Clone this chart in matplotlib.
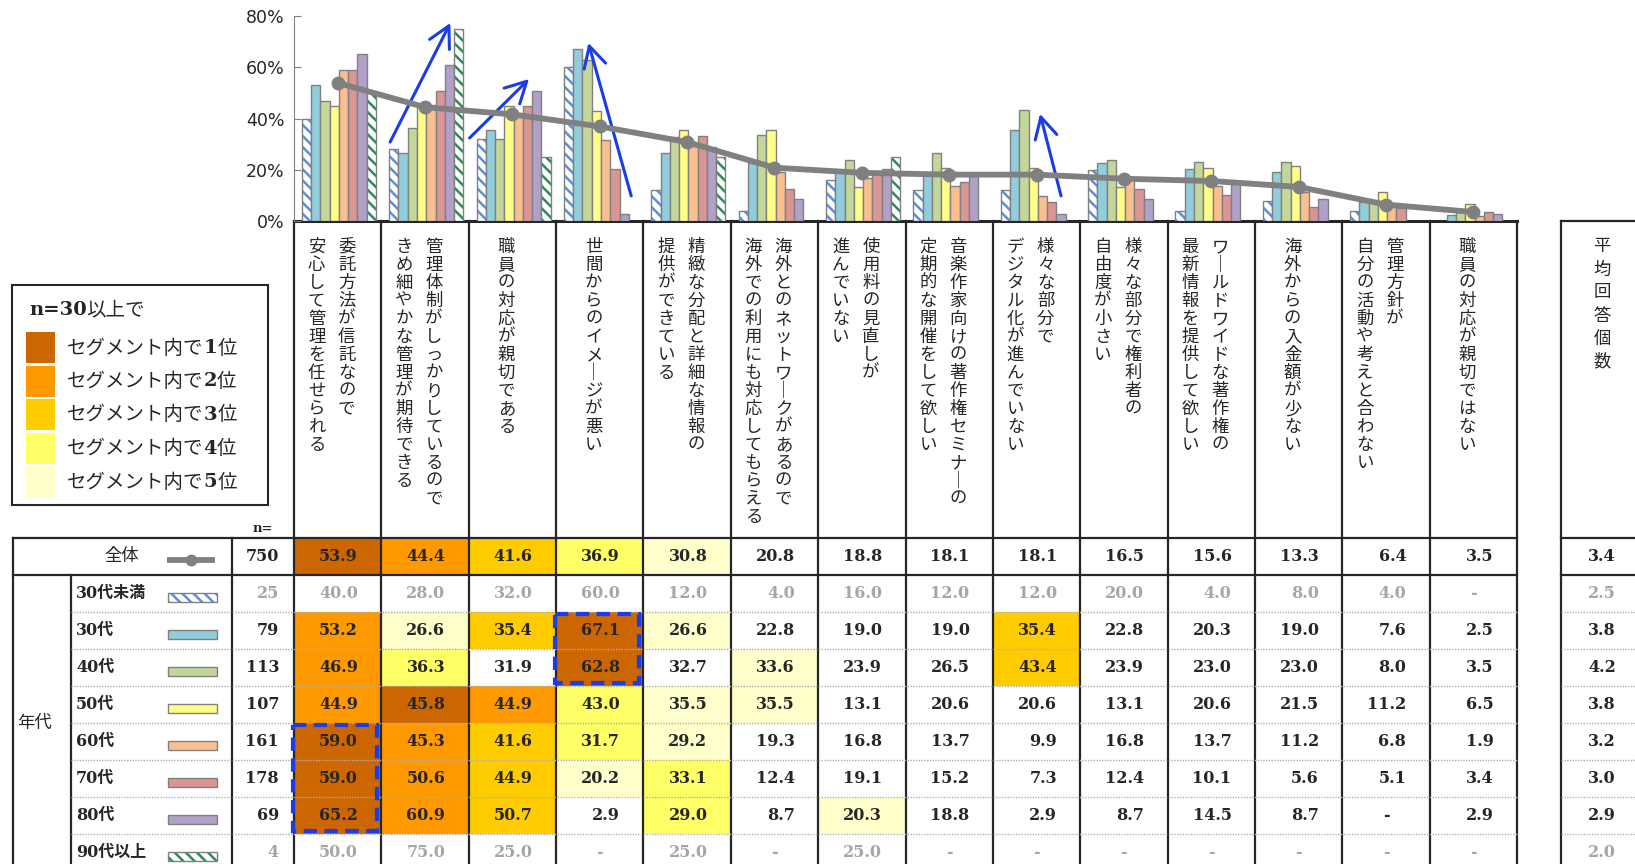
from matplotlib import pyplot as plt
from matplotlib.patches import Rectangle
import numpy as np

plt.rcParams['font.family'] = ['Noto Sans CJK JP', 'DejaVu Sans']
plt.rcParams['hatch.linewidth'] = 1.8

NA = np.nan

# Data
items = [
    ['委託方法が信託なので', '安心して管理を任せられる'],
    ['管理体制がしっかりしているので', 'きめ細やかな管理が期待できる'],
    ['職員の対応が親切である'],
    ['世間からのイメージが悪い'],
    ['精緻な分配と詳細な情報の', '提供ができている'],
    ['海外とのネットワークがあるので', '海外での利用にも対応してもらえる'],
    ['使用料の見直しが', '進んでいない'],
    ['音楽作家向けの著作権セミナーの', '定期的な開催をして欲しい'],
    ['様々な部分で', 'デジタル化が進んでいない'],
    ['様々な部分で権利者の', '自由度が小さい'],
    ['ワールドワイドな著作権の', '最新情報を提供して欲しい'],
    ['海外からの入金額が少ない'],
    ['管理方針が', '自分の活動や考えと合わない'],
    ['職員の対応が親切ではない'],
]
avg_header = '平均回答個数'

segments = ['全体', '30代未満', '30代', '40代', '50代', '60代', '70代', '80代', '90代以上']
n_values = [750, 25, 79, 113, 107, 161, 178, 69, 4]
avg_answers = [3.4, 2.5, 3.8, 4.2, 3.8, 3.2, 3.0, 2.9, 2.0]

total = [53.9, 44.4, 41.6, 36.9, 30.8, 20.8, 18.8, 18.1, 18.1, 16.5, 15.6, 13.3, 6.4, 3.5]
age_u30 = [40.0, 28.0, 32.0, 60.0, 12.0, 4.0, 16.0, 12.0, 12.0, 20.0, 4.0, 8.0, 4.0, NA]
age_30 = [53.2, 26.6, 35.4, 67.1, 26.6, 22.8, 19.0, 19.0, 35.4, 22.8, 20.3, 19.0, 7.6, 2.5]
age_40 = [46.9, 36.3, 31.9, 62.8, 32.7, 33.6, 23.9, 26.5, 43.4, 23.9, 23.0, 23.0, 8.0, 3.5]
age_50 = [44.9, 45.8, 44.9, 43.0, 35.5, 35.5, 13.1, 20.6, 20.6, 13.1, 20.6, 21.5, 11.2, 6.5]
age_60 = [59.0, 45.3, 41.6, 31.7, 29.2, 19.3, 16.8, 13.7, 9.9, 16.8, 13.7, 11.2, 6.8, 1.9]
age_70 = [59.0, 50.6, 44.9, 20.2, 33.1, 12.4, 19.1, 15.2, 7.3, 12.4, 10.1, 5.6, 5.1, 3.4]
age_80 = [65.2, 60.9, 50.7, 2.9, 29.0, 8.7, 20.3, 18.8, 2.9, 8.7, 14.5, 8.7, NA, 2.9]
age_90 = [50.0, 75.0, 25.0, NA, 25.0, NA, 25.0, NA, NA, NA, NA, NA, NA, NA]

age_series = [age_u30, age_30, age_40, age_50, age_60, age_70, age_80, age_90]
age_colors = ['#5B8FDB', '#92CDDC', '#C4D79B', '#FFFF88',
              '#FABF8F', '#DA9694', '#B1A0C7', '#2F8A5B']
age_hatches = ['\\\\\\', None, None, None, None, None, None, '\\\\\\']

rank_names = ['1', '2', '3', '4', '5']
rank_colors = ['#CC6600', '#FF9900', '#FFCC00', '#FFFF66', '#FFFFCC']

# Layout (pixels)
W, H = 1635, 864
X0, CW = 294, 87.36
XE = X0 + CW * 14
AX0 = 1561
Y_BASE, Y_TOP = 221, 16
Y_TOTAL, RH = 538, 37
DARK, GREY, BLUE = '#262626', '#A6A6A6', '#1A3DE8'
num_font = dict(family='DejaVu Serif', weight='bold', size=11.5)
mix_font = dict(family=['DejaVu Serif', 'Noto Sans CJK JP'], weight='bold')
serif_b = dict(family='DejaVu Serif', weight='bold')
cjk_r = dict(family='Noto Sans CJK JP', weight='normal')

fig = plt.figure(figsize=(W / 100, H / 100), dpi=100)
tb = fig.add_axes([0, 0, 1, 1])
tb.set_xlim(0, W)
tb.set_ylim(H, 0)
tb.axis('off')

ax = fig.add_axes([X0 / W, 1 - Y_BASE / H, CW * 14 / W, (Y_BASE - Y_TOP) / H])
ax.patch.set_visible(False)


def chained_text(x, y, parts, size):
    """Write pieces with different fonts one after another on a line."""
    prev = tb.text(x, y, parts[0][0], ha='left', va='center', color=DARK,
                   size=size, **parts[0][1])
    for s, font in parts[1:]:
        prev = tb.annotate(s, xy=(1, 0.5), xycoords=prev, ha='left', va='center',
                           color=DARK, size=size, **font)


# Bars
pos = np.arange(len(items))
bar_w = 0.106
for j, (vals, color, hatch) in enumerate(zip(age_series, age_colors, age_hatches)):
    vals = np.array(vals, dtype=float)
    ok = ~np.isnan(vals)
    x = pos[ok] + 0.09 + (j + 0.5) * bar_w
    if hatch:
        ax.bar(x, vals[ok], bar_w, color='white', edgecolor=color, hatch=hatch, lw=0)
        ax.bar(x, vals[ok], bar_w, fill=False, edgecolor='#808080', lw=1)
    else:
        ax.bar(x, vals[ok], bar_w, color=color, edgecolor='#808080', lw=1)

ax.plot(pos + 0.5, total, color='#808080', lw=4.2, marker='o', ms=9, zorder=5)

ax.set_xlim(0, len(items))
ax.set_ylim(0, 80)
ax.set_yticks([0, 20, 40, 60, 80])
ax.set_yticklabels([f'{v}%' for v in [0, 20, 40, 60, 80]],
                   family='DejaVu Sans', fontsize=12.5, color=DARK)
ax.set_xticks([])
ax.tick_params(axis='y', direction='in', length=5, color='#808080', pad=7)
for side in ['top', 'right', 'bottom']:
    ax.spines[side].set_visible(False)
ax.spines['left'].set_color('#808080')

# hand-drawn arrows
arrows = [((1.10, 30.8), (1.79, 77.3)), ((2.01, 32.4), (2.69, 55.4)),
          ((3.86, 9.8), (3.37, 69.5)), ((8.78, 9.8), (8.54, 41.8))]
for start, end in arrows:
    ax.annotate('', xy=end, xytext=start, annotation_clip=False,
                arrowprops=dict(arrowstyle='->,head_length=0.75,head_width=0.4',
                                color=BLUE, lw=2.2, mutation_scale=20,
                                shrinkA=0, shrinkB=0))

# Table cells
for r, vals in enumerate([total] + age_series):
    y_top = Y_TOTAL + r * RH
    yc = y_top + RH / 2
    big = n_values[r] >= 30
    color = DARK if big else GREY
    valid = [v for v in vals if not np.isnan(v)]
    for c, v in enumerate(vals):
        xl = X0 + c * CW
        if np.isnan(v):
            tb.text(xl + CW / 2, yc, '-', ha='center', va='center', color=color, **num_font)
            continue
        if big:
            rank = 1 + sum(1 for w in valid if w > v)
            if rank <= 5:
                tb.add_patch(Rectangle((xl, y_top), CW, RH, color=rank_colors[rank - 1], lw=0))
        tb.text(xl + 64, yc, f'{v:.1f}', ha='right', va='center', color=color, **num_font)
    tb.text(AX0 + 55, yc, f'{avg_answers[r]:.1f}', ha='right', va='center', color=color, **num_font)
    tb.text(279, yc, str(n_values[r]), ha='right', va='center', color=color, **num_font)
    if r == 0:
        tb.text(122, yc - 1, segments[r], ha='center', va='center', fontsize=12.5, color=DARK)
        tb.plot([167, 215], [yc + 3, yc + 3], color='#808080', lw=4.2, solid_capstyle='butt')
        tb.plot([191], [yc + 3], 'o', color='#808080', ms=7.5)
    else:
        tb.text(76, yc, segments[r], ha='left', va='center', color=DARK, size=11.5, **mix_font)
        j = r - 1
        if age_hatches[j]:
            tb.add_patch(Rectangle((168, yc - 1), 49, 9, facecolor='white',
                                   edgecolor=age_colors[j], hatch=age_hatches[j], lw=0))
            tb.add_patch(Rectangle((168, yc - 1), 49, 9, fill=False, edgecolor='#808080', lw=1))
        else:
            tb.add_patch(Rectangle((168, yc - 1), 49, 9, facecolor=age_colors[j],
                                   edgecolor='#808080', lw=1))

tb.text(35, Y_TOTAL + RH + 4 * RH, '年代', ha='center', va='center', fontsize=12.5, color=DARK)
tb.text(263, 528, 'n=', ha='center', va='center', color=DARK, size=9.5, **serif_b)

# Table lines
lw_thick = 1.6
for k in range(len(items) + 1):
    tb.plot([X0 + k * CW] * 2, [Y_BASE, H], color=DARK, lw=lw_thick)
tb.plot([AX0, AX0], [Y_BASE, H], color=DARK, lw=lw_thick)
tb.plot([X0, XE], [Y_BASE, Y_BASE], color=DARK, lw=2.2)
tb.plot([AX0, W], [Y_BASE, Y_BASE], color=DARK, lw=lw_thick)
for y in [Y_TOTAL, Y_TOTAL + RH]:
    tb.plot([13, XE], [y, y], color=DARK, lw=lw_thick)
    tb.plot([AX0, W], [y, y], color=DARK, lw=lw_thick)
tb.plot([13, 13], [Y_TOTAL, H], color=DARK, lw=lw_thick)
tb.plot([232, 232], [Y_TOTAL, H], color=DARK, lw=lw_thick)
tb.plot([71, 71], [Y_TOTAL + RH, H], color=DARK, lw=lw_thick)
for k in range(1, len(age_series)):
    y = Y_TOTAL + RH + k * RH
    tb.plot([71, XE], [y, y], color='#B0B0B0', lw=1, ls=(0, (1, 1)))
    tb.plot([AX0, W], [y, y], color='#B0B0B0', lw=1, ls=(0, (1, 1)))

# dashed highlight boxes
for col, r0, r1 in [(3, 2, 3), (0, 5, 7)]:
    tb.add_patch(Rectangle((X0 + col * CW - 1, Y_TOTAL + r0 * RH + 2), CW - 3, (r1 - r0 + 1) * RH - 5,
                           fill=False, edgecolor=BLUE, lw=3, ls=(0, (3.2, 1.8)), zorder=6))

# Vertical header labels
pitch = 18
for c, lines in enumerate(items):
    xc = X0 + c * CW + CW / 2 - 6
    nl = len(lines)
    for i, line in enumerate(lines):
        x = xc + (nl - 1) * 15 - i * 30
        for k, ch in enumerate(line):
            ch = '｜' if ch == 'ー' else ch
            tb.text(x, 238 + pitch * (k + 0.5), ch, ha='center', va='center',
                    fontsize=12.5, color=DARK)
for k, ch in enumerate(avg_header):
    tb.text(1602, 235 + 23 * (k + 0.5), ch, ha='center', va='center', fontsize=12.5, color=DARK)

# Legend box
tb.add_patch(Rectangle((12, 285), 256, 220, fill=False, edgecolor=DARK, lw=1.5))
chained_text(29, 310, [('n=30', serif_b), ('以上で', cjk_r)], 14)
for i, (name, color) in enumerate(zip(rank_names, rank_colors)):
    y = 332 + i * 33.5
    tb.add_patch(Rectangle((26, y), 29, 31, color=color, lw=0))
    chained_text(67, y + 16, [('セグメント内で', cjk_r), (name, serif_b), ('位', cjk_r)], 14)

fig.savefig('out.png', dpi=100)
